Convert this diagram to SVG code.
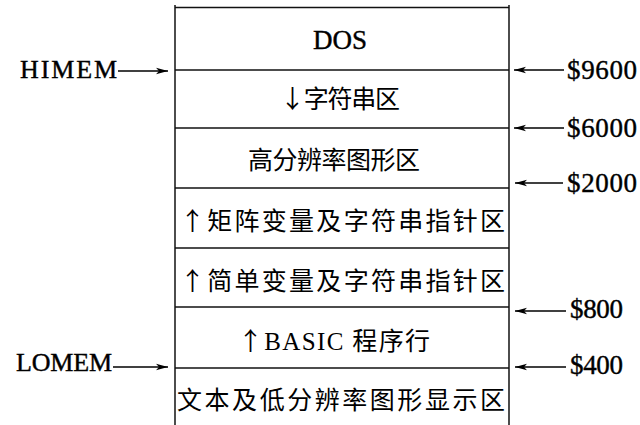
<svg xmlns="http://www.w3.org/2000/svg" width="640" height="425" viewBox="0 0 640 425">
<defs>
<style>
.ln{stroke:#000;stroke-width:1.4;fill:none}
.sep{stroke:#111;stroke-width:1.5;fill:none}
.cn{stroke:#000;stroke-width:1.3;fill:none}
.lat{font-family:"Liberation Serif","Times New Roman",serif;fill:#000;stroke:#000;stroke-width:0.4}
.big{font-size:27px}
.lbl{font-size:26px}
.cjk{font-family:"Liberation Serif","Noto Sans CJK SC",serif;fill:#000;font-size:25px}
.arr{font-family:"Noto Sans CJK SC",sans-serif}
</style>
<marker id="ah" viewBox="0 0 12 8" refX="12" refY="4" markerWidth="12" markerHeight="8" markerUnits="userSpaceOnUse" orient="auto">
<path d="M0,0.8 L12,4 L0,7.2 L3,4 Z" fill="#000"/>
</marker>
</defs>
<rect width="640" height="425" fill="#fff"/>

<g id="frame">
<line class="ln" x1="175" y1="5" x2="175" y2="425"/>
<line class="ln" x1="509" y1="5" x2="509" y2="425"/>
<line class="sep" x1="175" y1="7.5" x2="509" y2="7.5"/>
<line class="sep" x1="175" y1="70" x2="509" y2="70"/>
<line class="sep" x1="175" y1="128" x2="509" y2="128"/>
<line class="sep" x1="175" y1="188" x2="509" y2="188"/>
<line class="sep" x1="175" y1="248" x2="509" y2="248"/>
<line class="sep" x1="175" y1="307" x2="509" y2="307"/>
<line class="sep" x1="175" y1="368" x2="509" y2="368"/>
</g>

<g id="dos"><text class="lat big" x="313" y="49" textLength="54" lengthAdjust="spacing">DOS</text></g>
<g id="string-area"><text class="cjk" x="280" y="108" textLength="120" lengthAdjust="spacing"><tspan class="arr">↓</tspan>字符串区</text></g>
<g id="hires-graphics"><text class="cjk" x="248" y="169" textLength="172" lengthAdjust="spacing">高分辨率图形区</text></g>
<g id="array-vars"><text class="cjk" x="180" y="230" textLength="325" lengthAdjust="spacing"><tspan class="arr">↑</tspan>矩阵变量及字符串指针区</text></g>
<g id="simple-vars"><text class="cjk" x="180" y="290" textLength="325" lengthAdjust="spacing"><tspan class="arr">↑</tspan>简单变量及字符串指针区</text></g>
<g id="basic-program"><text class="cjk" x="238" y="350" textLength="192" lengthAdjust="spacing"><tspan class="arr">↑</tspan>BASIC 程序行</text></g>
<g id="text-lores"><text class="cjk" x="177" y="409" textLength="328" lengthAdjust="spacing">文本及低分辨率图形显示区</text></g>

<g id="himem"><text class="lat lbl" x="20" y="78" textLength="97" lengthAdjust="spacing">HIMEM</text></g>
<g id="lomem"><text class="lat lbl" x="16" y="371" textLength="96" lengthAdjust="spacing">LOMEM</text></g>
<g id="addr-9600"><text class="lat big" x="567" y="79" textLength="70" lengthAdjust="spacing">$9600</text></g>
<g id="addr-6000"><text class="lat big" x="567" y="137" textLength="70" lengthAdjust="spacing">$6000</text></g>
<g id="addr-2000"><text class="lat big" x="567" y="192" textLength="70" lengthAdjust="spacing">$2000</text></g>
<g id="addr-800"><text class="lat big" x="570" y="318" textLength="53" lengthAdjust="spacing">$800</text></g>
<g id="addr-400"><text class="lat big" x="570" y="374" textLength="53" lengthAdjust="spacing">$400</text></g>

<g id="connectors">
<line class="cn" x1="118" y1="71" x2="168" y2="71" marker-end="url(#ah)"/>
<line class="cn" x1="113" y1="367" x2="168" y2="367" marker-end="url(#ah)"/>
<line class="cn" x1="564" y1="70" x2="514" y2="70" marker-end="url(#ah)"/>
<line class="cn" x1="564" y1="128" x2="514" y2="128" marker-end="url(#ah)"/>
<line class="cn" x1="563" y1="183" x2="515" y2="183" marker-end="url(#ah)"/>
<line class="cn" x1="566" y1="311" x2="515" y2="311" marker-end="url(#ah)"/>
<line class="cn" x1="566" y1="367" x2="515" y2="367" marker-end="url(#ah)"/>
</g>
</svg>
